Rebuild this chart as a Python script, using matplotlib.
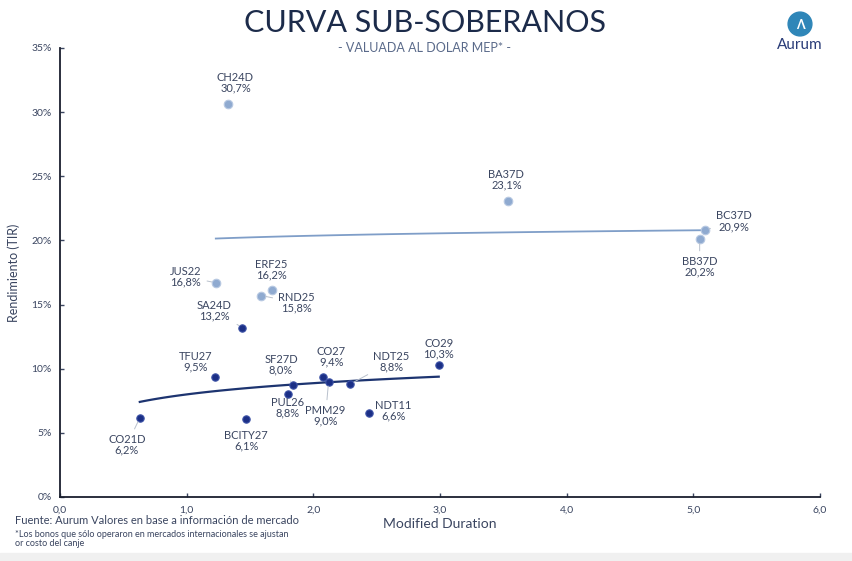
import numpy as np
import matplotlib
matplotlib.use('Agg')
import matplotlib.pyplot as plt
from matplotlib.patches import Circle, Rectangle

plt.rcParams['font.family'] = ['Lato', 'DejaVu Sans']

# bonos "curva alta" (celeste)
alto_nombres = ['CH24D', 'BA37D', 'BC37D', 'BB37D', 'JUS22', 'ERF25', 'RND25']
alto_labels = ['30,7%', '23,1%', '20,9%', '20,2%', '16,8%', '16,2%', '15,8%']
alto_dur = [1.33, 3.54, 5.09, 5.05, 1.23, 1.67, 1.59]
alto_tir = [30.6, 23.1, 20.8, 20.1, 16.7, 16.1, 15.7]

# bonos "curva baja" (azul oscuro)
bajo_nombres = ['SA24D', 'TFU27', 'SF27D', 'PUL26', 'CO27', 'PMM29', 'NDT25',
                'CO29', 'NDT11', 'BCITY27', 'CO21D']
bajo_labels = ['13,2%', '9,5%', '8,0%', '8,8%', '9,4%', '9,0%', '8,8%',
               '10,3%', '6,6%', '6,1%', '6,2%']
bajo_dur = [1.44, 1.22, 1.84, 1.80, 2.08, 2.12, 2.29, 2.99, 2.44, 1.47, 0.63]
bajo_tir = [13.2, 9.36, 8.73, 8.03, 9.35, 8.96, 8.8, 10.3, 6.55, 6.08, 6.16]

x_ticks = [0, 1, 2, 3, 4, 5, 6]
x_ticklabels = ['0,0', '1,0', '2,0', '3,0', '4,0', '5,0', '6,0']
y_ticks = [0, 5, 10, 15, 20, 25, 30, 35]
y_ticklabels = ['0%', '5%', '10%', '15%', '20%', '25%', '30%', '35%']

# offsets de etiquetas en pixeles (dx, dy, con linea guia?)
alto_off = [(7, 22, False), (-2, 21, False), (29, 9, True), (0, -28, True),
            (-30, 6, True), (0, 21, False), (35, -7, True)]
bajo_off = [(-28, 17, True), (-19, 15, False), (-12, 20, True), (0, -14, False),
            (8, 20, False), (-3, -34, True), (41, 22, True), (0, 16, False),
            (24, 2, False), (0, -22, False), (-13, -27, True)]

c_alto = '#8faad0'
c_bajo = '#1b2f86'
c_texto = '#3a4560'
c_titulo = '#1c2b4a'

fig = plt.figure(figsize=(8.53, 5.61), dpi=100)
ax = fig.add_axes([60 / 853, 1 - 497 / 561, 760 / 853, 449 / 561])


def log_trend(x, y):
    x = np.array(x)
    b, a = np.polyfit(np.log(x), np.array(y), 1)
    xs = np.linspace(x.min(), x.max(), 100)
    return xs, a + b * np.log(xs)


xs, ys = log_trend(alto_dur, alto_tir)
ax.plot(xs, ys, color='#7f9ec8', lw=1.3, zorder=2)
xs, ys = log_trend(bajo_dur, bajo_tir)
ax.plot(xs, ys, color='#1d3470', lw=1.6, zorder=2)

ax.scatter(alto_dur, alto_tir, s=38, color=c_alto, edgecolors='#b8c9e2', lw=0.8, zorder=3)
ax.scatter(bajo_dur, bajo_tir, s=28, color=c_bajo, edgecolors='#3c52a6', lw=0.8, zorder=3)


def etiquetar(nombres, labels, xs, ys, offs):
    for n, l, x, y, o in zip(nombres, labels, xs, ys, offs):
        arrow = None
        if o[2]:
            arrow = dict(arrowstyle='-', color='#b8c0cc', lw=0.7, shrinkA=2, shrinkB=3)
        ax.annotate(n + '\n' + l, (x, y), xytext=(o[0], o[1]), textcoords='offset pixels',
                    ha='center', va='center', fontsize=8, color=c_texto,
                    linespacing=0.95, arrowprops=arrow, zorder=4)


etiquetar(alto_nombres, alto_labels, alto_dur, alto_tir, alto_off)
etiquetar(bajo_nombres, bajo_labels, bajo_dur, bajo_tir, bajo_off)

ax.set_xlim(0, 6)
ax.set_ylim(0, 35)
ax.set_xticks(x_ticks)
ax.set_xticklabels(x_ticklabels)
ax.set_yticks(y_ticks)
ax.set_yticklabels(y_ticklabels)
ax.tick_params(direction='in', length=3, width=1, labelsize=7.5, colors=c_texto, pad=6)
for s in ['top', 'right']:
    ax.spines[s].set_visible(False)
for s in ['left', 'bottom']:
    ax.spines[s].set_color('#1a1f2e')
    ax.spines[s].set_linewidth(1.3)

ax.set_xlabel('Modified Duration', fontsize=10, color=c_texto, labelpad=3)
ax.set_ylabel('Rendimiento (TIR)', fontsize=9, color=c_texto, labelpad=8)

fig.text(0.498, 1 - 23 / 561, 'CURVA SUB-SOBERANOS', ha='center', va='center',
         fontsize=22, color=c_titulo)
fig.text(0.498, 0.914, '- VALUADA AL DOLAR MEP* -', ha='center', va='center',
         fontsize=9, color='#5a6a8a')

# logo (ejes chicos para que el circulo quede redondo)
lax = fig.add_axes([786 / 853, 1 - 38 / 561, 28 / 853, 28 / 561])
lax.set_xlim(-1, 1)
lax.set_ylim(-1, 1)
lax.set_aspect('equal')
lax.axis('off')
lax.add_patch(Circle((0, 0), 0.85, color='#2f86b8'))
lax.text(0, -0.05, 'Λ', ha='center', va='center', fontsize=9, color='white',
         fontweight='bold')
fig.text(800 / 853, 1 - 45 / 561, 'Aurum', ha='center', va='center', fontsize=11,
         color='#2a3c78')

fig.text(15 / 853, 1 - 521 / 561, 'Fuente: Aurum Valores en base a información de mercado',
         ha='left', va='center', fontsize=8, color=c_texto)
fig.text(15 / 853, 1 - 539 / 561,
         '*Los bonos que sólo operaron en mercados internacionales se ajustan\nor costo del canje',
         ha='left', va='center', fontsize=6.5, color=c_texto, linespacing=1.1)

fig.patches.append(Rectangle((0, 0), 1, 8 / 561, transform=fig.transFigure,
                             color='#f0f0f0', zorder=0))

fig.savefig('out.png', dpi=100)
